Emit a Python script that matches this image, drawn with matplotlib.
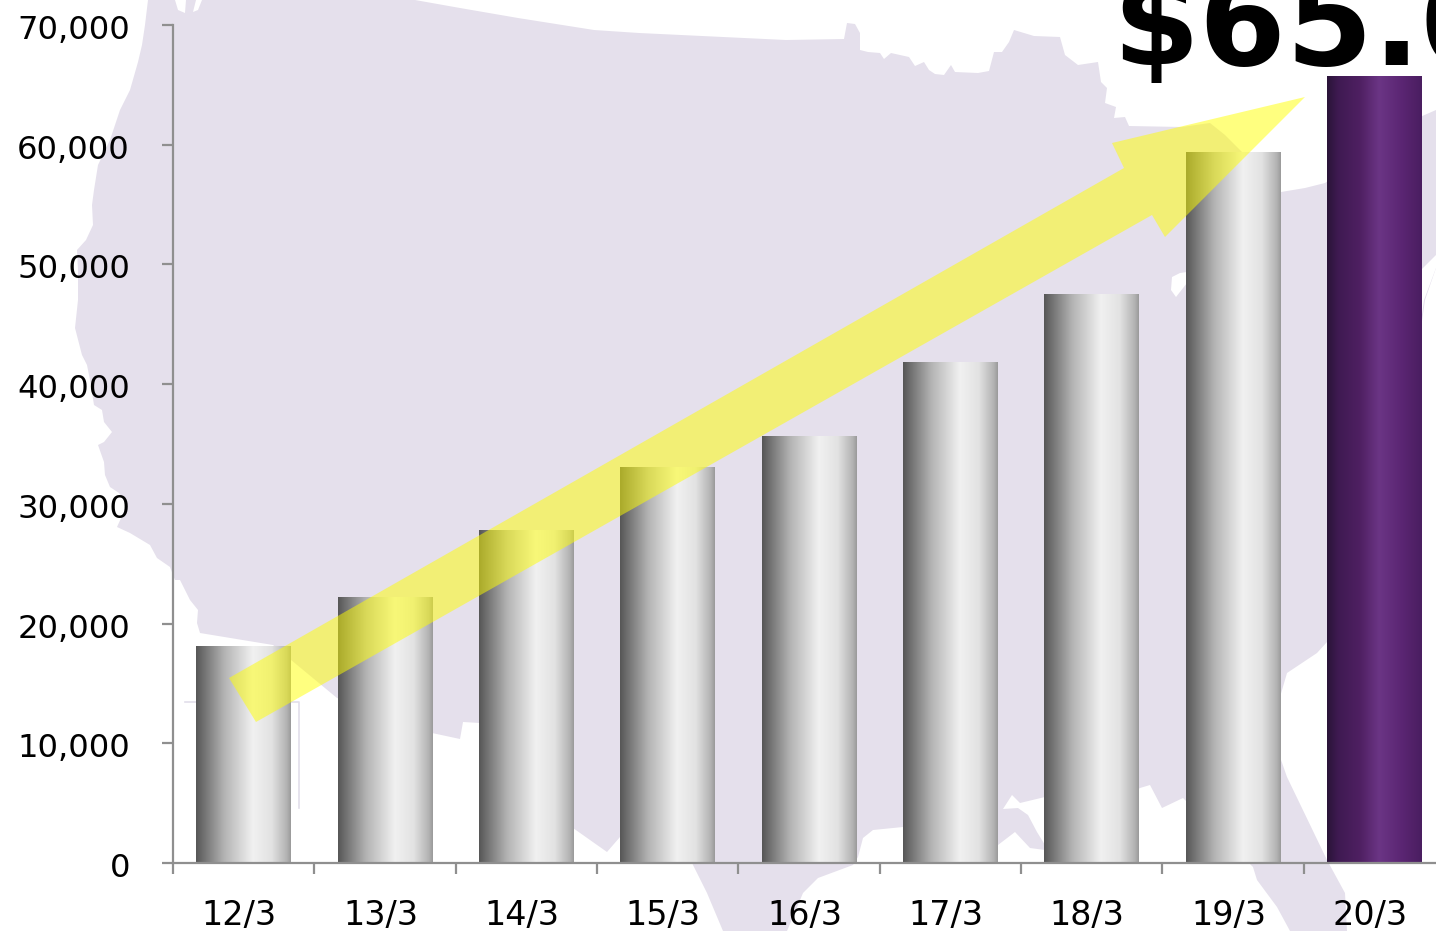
import numpy as np
import matplotlib
matplotlib.use('Agg')
import matplotlib.pyplot as plt
from matplotlib.colors import LinearSegmentedColormap
from matplotlib.patches import Polygon
from matplotlib.transforms import ScaledTranslation

categories = ['12/3', '13/3', '14/3', '15/3', '16/3', '17/3', '18/3', '19/3', '20/3']
values = [18050, 22200, 27800, 33000, 35650, 41800, 47500, 59350, 65700]
y_ticks = [0, 10000, 20000, 30000, 40000, 50000, 60000, 70000]

W, H = 1436, 931
LAVENDER = '#e5e0ec'
AXIS_GREY = '#8f8f8f'

plt.rcParams['font.family'] = ['DejaVu Sans']

fig = plt.figure(figsize=(W / 100, H / 100), dpi=100, facecolor='white')

# background layer, in image pixels
bg = fig.add_axes([0, 0, 1, 1], zorder=0)
bg.set_xlim(0, W)
bg.set_ylim(H, 0)
bg.axis('off')

# map outline
us_outline = [
    (148, 0), (145, 25), (142, 45), (138, 62), (130, 90), (120, 110), (110, 140), (98, 165),
    (94, 190), (92, 205), (93, 225), (86, 240), (77, 250), (78, 270), (78, 300), (75, 328),
    (82, 355), (87, 365), (90, 380), (94, 405), (102, 410), (104, 422), (112, 432), (104, 442),
    (98, 445), (104, 462), (105, 475), (110, 487), (119, 493), (127, 505), (117, 527), (130, 533),
    (150, 545), (157, 558), (170, 567), (175, 580), (180, 580), (190, 600), (198, 610), (197, 623),
    (200, 633), (273, 645), (337, 698), (432, 733), (460, 739), (463, 722), (480, 723), (573, 828),
    (607, 852), (620, 837), (692, 863), (707, 893), (723, 931), (787, 931), (803, 893), (818, 878),
    (853, 865), (858, 857), (863, 838), (873, 830), (903, 827), (998, 845), (1015, 832), (1030, 848),
    (1045, 850), (1140, 788), (1150, 785), (1162, 808), (1183, 798), (1253, 867), (1257, 880),
    (1277, 907), (1290, 931), (1347, 931), (1345, 893), (1327, 860), (1287, 777), (1280, 757),
    (1280, 697), (1287, 673), (1317, 653), (1327, 642), (1420, 335), (1425, 300), (1436, 268),
    (1436, 110), (1420, 117), (1325, 183), (1305, 188), (1281, 192), (1240, 150), (1225, 135),
    (1210, 123), (1182, 127), (1129, 126), (1125, 117), (1114, 118), (1116, 107), (1105, 103),
    (1107, 88), (1101, 82), (1098, 62), (1078, 65), (1065, 55), (1060, 37), (1034, 36), (1014, 30),
    (1009, 42), (1002, 52), (994, 52), (989, 71), (978, 73), (955, 72), (951, 65), (944, 75),
    (935, 74), (929, 70), (924, 62), (915, 66), (909, 57), (891, 53), (884, 59), (880, 53),
    (868, 52), (860, 50), (860, 33), (855, 24), (847, 23), (844, 39), (786, 40), (639, 33),
    (594, 30), (518, 18), (460, 8), (415, 0),
]
bg.add_patch(Polygon(us_outline, closed=True, fc=LAVENDER, ec='none'))

# lakes and sounds that show through
white_spots = [
    [(175, 0), (186, 0), (185, 13), (178, 10)],
    [(193, 12), (196, 0), (202, 0), (198, 10)],
    [(1172, 277), (1180, 273), (1187, 272), (1187, 283), (1176, 297), (1171, 290)],
    [(1003, 809), (1012, 795), (1020, 803), (1045, 797), (1045, 845), (1037, 832), (1028, 815), (1018, 808)],
    [(1421, 270), (1436, 255), (1436, 268), (1424, 300), (1420, 330)],
]
for spot in white_spots:
    bg.add_patch(Polygon(spot, closed=True, fc='white', ec='none'))

# thin inset frame left over from the map
bg.plot([185, 299, 299], [702, 702, 808], color='#e2deea', lw=1.2)

# chart
ax = fig.add_axes([173 / W, 68 / H, 1272 / W, 838 / H], zorder=1)
ax.patch.set_visible(False)

grey_cmap = LinearSegmentedColormap.from_list('grey_bar', [
    (0.0, '#565656'), (0.06, '#6a6a6a'), (0.3, '#b4b4b4'), (0.6, '#f1f1f1'),
    (0.8, '#e2e2e2'), (0.96, '#b2b2b2'), (1.0, '#9a9a9a')])
purple_cmap = LinearSegmentedColormap.from_list('purple_bar', [
    (0.0, '#2a1438'), (0.12, '#3f1a52'), (0.35, '#4f2062'), (0.55, '#6b3585'),
    (0.8, '#5a2572'), (1.0, '#4a1e60')])
ramp = np.linspace(0, 1, 256).reshape(1, -1)

bars = ax.bar(range(len(values)), values, width=0.672, color='none', edgecolor='none')
for i, bar in enumerate(bars):
    cmap = purple_cmap if i == len(values) - 1 else grey_cmap
    ax.imshow(ramp, cmap=cmap, aspect='auto', zorder=2,
              extent=(bar.get_x(), bar.get_x() + bar.get_width(), 0, bar.get_height()))

ax.set_xlim(-0.5, len(values) - 0.5)
ax.set_ylim(0, 70000)

for side in ['top', 'right']:
    ax.spines[side].set_visible(False)
for side in ['left', 'bottom']:
    ax.spines[side].set_color(AXIS_GREY)
    ax.spines[side].set_linewidth(1.6)
    ax.spines[side].set_zorder(3)

ax.set_yticks(y_ticks)
ax.set_yticklabels([f'{v:,}' for v in y_ticks])
ax.set_xticks(np.arange(len(values)) - 0.5)
ax.set_xticklabels([])
ax.set_xticks(range(len(values)), labels=categories, minor=True)
ax.tick_params(axis='both', which='major', length=8, width=1.6, color=AXIS_GREY, labelcolor='black')
ax.tick_params(axis='y', pad=23, labelsize=23.2)
ax.tick_params(axis='x', which='minor', length=0, pad=26, labelsize=24, labelcolor='black')

# labels sit a little off the bar centres and ticks
shift_x = ScaledTranslation(-4.5 / 100, 0, fig.dpi_scale_trans)
for label in ax.get_xticklabels(minor=True):
    label.set_transform(label.get_transform() + shift_x)
shift_y = ScaledTranslation(0, -2 / 100, fig.dpi_scale_trans)
for label in ax.get_yticklabels():
    label.set_transform(label.get_transform() + shift_y)

# growth arrow, half transparent, over the bars
arrow_pts = [(229, 678), (1124, 168), (1112, 143), (1305, 97), (1165, 237), (1152, 215), (256, 722)]
ax.add_patch(Polygon(arrow_pts, closed=True, fc='#ffff00', ec='none', alpha=0.5,
                     transform=bg.transData, clip_on=False, zorder=5))

# headline runs off the top and right of the picture, as in the original
top = fig.add_axes([0, 0, 1, 1], zorder=2)
top.set_xlim(0, W)
top.set_ylim(H, 0)
top.axis('off')
top.text(1112, 65, '$65.0', fontsize=90, fontweight='bold', color='black', ha='left', va='baseline')

fig.savefig('out.png', dpi=100)
